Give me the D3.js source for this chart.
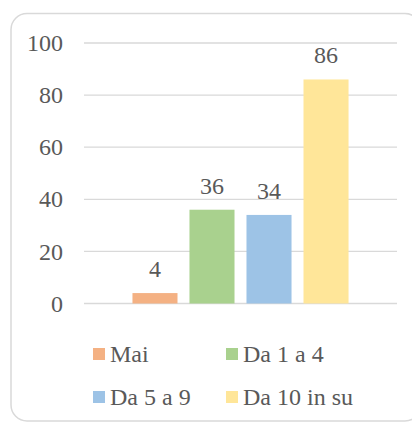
<!DOCTYPE html>
<html><head><meta charset="utf-8">
<script src="https://cdn.jsdelivr.net/npm/d3@7"></script>
<style>
html,body{margin:0;padding:0;background:#fff;}
svg{display:block;}
svg text{font-family:"Liberation Serif","Times New Roman",Times,serif !important;font-size:24px !important;}
</style>
</head><body>
<svg id="c" width="412" height="423"></svg>
<script>
const series = ["Mai", "Da 1 a 4", "Da 5 a 9", "Da 10 in su"];
const values = [4, 36, 34, 86];
const colors = ["#F4B183", "#A9D18E", "#9DC3E6", "#FFE699"];
const yTicks = [0, 20, 40, 60, 80, 100];

const svg = d3.select("#c");
const textColor = "#595959";

svg.append("rect").attr("x", 11).attr("y", 13.5).attr("width", 410).attr("height", 407.5)
  .attr("rx", 16).attr("fill", "#fff").attr("stroke", "#d9d9d9").attr("stroke-width", 1.5);

const y = d3.scaleLinear().domain([0, 100]).range([303.5, 43]);
const x = d3.scaleBand().domain(series).range([84, 397]).paddingInner(0.21).paddingOuter(0.85);

svg.append("g").selectAll("line").data(yTicks).join("line")
  .attr("x1", 84).attr("x2", 397)
  .attr("y1", d => y(d)).attr("y2", d => y(d))
  .attr("stroke", "#d9d9d9").attr("stroke-width", 1.3);

const yAxis = svg.append("g").attr("transform", "translate(70,0)")
  .call(d3.axisLeft(y).tickValues(yTicks).tickSize(0).tickPadding(7));
yAxis.attr("font-family", "Liberation Serif").attr("font-size", 24);
yAxis.select(".domain").remove();
yAxis.selectAll("text").attr("fill", textColor);

svg.append("g").selectAll("text").data(values).join("text")
  .attr("x", (d, i) => x(series[i]) + x.bandwidth() / 2)
  .attr("y", d => y(d) - 16)
  .attr("text-anchor", "middle")
  .attr("font-family", "Liberation Serif").attr("font-size", 24)
  .attr("fill", textColor).text(d => d);

svg.append("g").selectAll("rect").data(values).join("rect")
  .attr("x", (d, i) => x(series[i])).attr("width", x.bandwidth())
  .attr("y", d => y(d)).attr("height", d => y(0) - y(d))
  .attr("fill", (d, i) => colors[i]);

const legendPos = [[93, 348], [226, 348], [93, 391], [226, 391]];
const lg = svg.append("g").selectAll("g").data(series).join("g")
  .attr("transform", (d, i) => `translate(${legendPos[i][0]},${legendPos[i][1]})`);
lg.append("rect").attr("width", 12).attr("height", 12).attr("fill", (d, i) => colors[i]);
lg.append("text").attr("x", 17).attr("y", 13.5)
  .attr("font-family", "Liberation Serif").attr("font-size", 24)
  .attr("fill", textColor).text(d => d);
</script>
</body></html>
